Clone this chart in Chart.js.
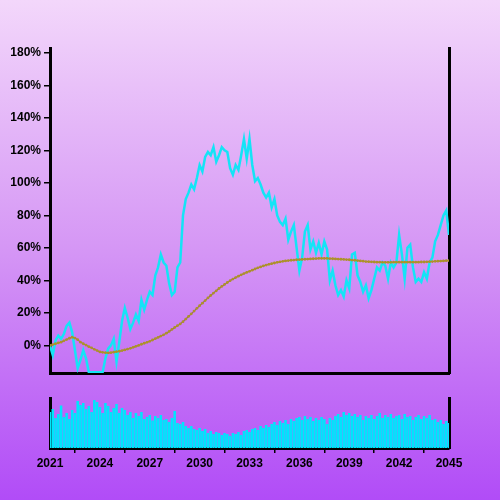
<!DOCTYPE html>
<html>
<head>
<meta charset="utf-8">
<script src="https://cdn.jsdelivr.net/npm/chart.js@4.4.0/dist/chart.umd.min.js"></script>
<style>
  html, body { margin: 0; padding: 0; width: 500px; height: 500px; overflow: hidden; }
  body { background: linear-gradient(to bottom, #f3d7fb 0%, #d596f5 50%, #b14cf7 100%); position: relative; }
  #mainChart { position: absolute; left: 0; top: 0; }
  #volChart { position: absolute; left: 0; top: 380px; }
</style>
</head>
<body>
<canvas id="mainChart" width="500" height="380"></canvas>
<canvas id="volChart" width="500" height="120"></canvas>
<script>
// Series, one value every two months from 2021 to 2045
const priceChange = [
  0.00, -0.06, 0.03, 0.06, 0.04, 0.07, 0.12, 0.14, 0.08, -0.03,
  -0.14, -0.09, -0.03, -0.08, -0.165, -0.165, -0.165, -0.165, -0.165, -0.165,
  -0.08, -0.02, 0.00, 0.04, -0.10, 0.02, 0.15, 0.23, 0.17, 0.10,
  0.14, 0.19, 0.15, 0.28, 0.22, 0.28, 0.33, 0.31, 0.43, 0.48,
  0.56, 0.51, 0.49, 0.38, 0.31, 0.33, 0.48, 0.51, 0.80, 0.90,
  0.94, 0.99, 0.96, 1.03, 1.11, 1.07, 1.16, 1.19, 1.17, 1.22,
  1.13, 1.17, 1.22, 1.20, 1.19, 1.09, 1.05, 1.11, 1.08, 1.17,
  1.27, 1.15, 1.27, 1.11, 1.01, 1.03, 0.99, 0.94, 0.91, 0.94,
  0.85, 0.90, 0.80, 0.76, 0.74, 0.78, 0.65, 0.70, 0.74, 0.60,
  0.46, 0.54, 0.70, 0.74, 0.59, 0.64, 0.57, 0.63, 0.56, 0.64,
  0.59, 0.40, 0.46, 0.37, 0.31, 0.34, 0.30, 0.40, 0.35, 0.56,
  0.57, 0.43, 0.39, 0.33, 0.37, 0.29, 0.34, 0.41, 0.48, 0.46,
  0.51, 0.49, 0.41, 0.51, 0.48, 0.51, 0.68, 0.56, 0.41, 0.60,
  0.62, 0.48, 0.39, 0.41, 0.39, 0.45, 0.41, 0.51, 0.54, 0.64,
  0.68, 0.74, 0.80, 0.83, 0.68
];

const smoothTrend = [
  0.000, 0.005, 0.010, 0.015, 0.020, 0.028, 0.036, 0.044, 0.050, 0.045,
  0.035, 0.020, 0.010, 0.002, -0.008, -0.015, -0.024, -0.032, -0.040, -0.043,
  -0.045, -0.046, -0.045, -0.042, -0.039, -0.036, -0.032, -0.028, -0.023, -0.018,
  -0.012, -0.006, 0.000, 0.007, 0.013, 0.019, 0.025, 0.033, 0.041, 0.049,
  0.057, 0.065, 0.075, 0.086, 0.098, 0.110, 0.121, 0.132, 0.146, 0.162,
  0.178, 0.194, 0.211, 0.228, 0.244, 0.260, 0.276, 0.292, 0.307, 0.322,
  0.336, 0.350, 0.363, 0.375, 0.387, 0.398, 0.408, 0.417, 0.426, 0.434,
  0.442, 0.449, 0.456, 0.463, 0.470, 0.477, 0.483, 0.489, 0.494, 0.499,
  0.503, 0.507, 0.511, 0.514, 0.517, 0.520, 0.522, 0.524, 0.525, 0.527,
  0.528, 0.529, 0.530, 0.531, 0.532, 0.533, 0.534, 0.535, 0.535, 0.535,
  0.535, 0.534, 0.533, 0.532, 0.531, 0.530, 0.529, 0.528, 0.527, 0.525,
  0.524, 0.522, 0.520, 0.518, 0.516, 0.515, 0.514, 0.513, 0.512, 0.512,
  0.511, 0.511, 0.511, 0.511, 0.512, 0.512, 0.512, 0.512, 0.512, 0.512,
  0.512, 0.512, 0.512, 0.512, 0.513, 0.513, 0.514, 0.515, 0.516, 0.517,
  0.518, 0.519, 0.520, 0.521, 0.522
];

const volume = [
  72, 78, 60, 68, 85, 62, 70, 58, 76, 70,
  94, 86, 90, 78, 84, 72, 96, 92, 82, 70,
  90, 84, 72, 80, 88, 70, 80, 76, 66, 72,
  60, 70, 64, 72, 58, 62, 66, 55, 64, 60,
  66, 56, 58, 52, 60, 74, 50, 48, 52, 44,
  40, 44, 38, 36, 40, 34, 38, 30, 34, 28,
  32, 30, 26, 30, 28, 24, 30, 28, 32, 26,
  34, 36, 32, 38, 40, 36, 44, 40, 46, 42,
  48, 52, 46, 54, 50, 56, 48, 58, 54, 60,
  62, 56, 64, 58, 62, 54, 60, 56, 62, 58,
  48, 60, 56, 64, 68, 62, 72, 66, 70, 64,
  68, 62, 66, 56, 64, 60, 66, 58, 64, 70,
  60, 66, 62, 68, 60, 64, 66, 58, 68, 62,
  64, 56, 62, 66, 58, 64, 60, 66, 56, 58,
  52, 56, 48, 54, 50
];

// y tick values shown on the main axis
const yTicks = [0, 0.2, 0.4, 0.6, 0.8, 1.0, 1.2, 1.4, 1.6, 1.8];

// x positions in years
const dates = priceChange.map((_, i) => 2021 + i / 6);

const tickFont = { family: "'Liberation Sans', Arial, sans-serif", size: 12, weight: "bold" };

// Main line chart
new Chart(document.getElementById("mainChart").getContext("2d"), {
  type: "line",
  data: {
    datasets: [
      {
        label: "Trend",
        data: dates.map((x, i) => ({ x, y: smoothTrend[i] })),
        borderColor: "#9a6858",
        borderWidth: 1.2,
        pointRadius: 1.4,
        pointBackgroundColor: "#ad9426",
        pointBorderColor: "#ad9426",
        pointBorderWidth: 0,
        tension: 0,
      },
      {
        label: "Change",
        data: dates.map((x, i) => ({ x, y: priceChange[i] })),
        borderColor: "#14e4f6",
        borderWidth: 2.5,
        pointRadius: 0,
        tension: 0,
      },
    ],
  },
  options: {
    responsive: false,
    animation: false,
    layout: { padding: { top: 48, right: 51, bottom: 7, left: 0 } },
    plugins: { legend: { display: false }, tooltip: { enabled: false } },
    scales: {
      x: {
        type: "linear",
        min: 2021,
        max: 2045,
        ticks: { display: false },
        grid: { display: false },
        border: { display: true, color: "#000", width: 3 },
        afterFit: (scale) => { scale.height = 0; },
      },
      y: {
        min: -0.17,
        max: 1.83,
        ticks: {
          padding: 3,
          color: "#000",
          font: tickFont,
          callback: (v) => Math.round(v * 100) + "%",
        },
        afterBuildTicks: (scale) => {
          scale.ticks = yTicks.map((v) => ({ value: v }));
        },
        grid: { drawOnChartArea: false, tickLength: 6, color: "#000", lineWidth: 1.5 },
        border: { display: true, color: "#000", width: 3 },
        afterFit: (scale) => {
          scale.width = 50;
          scale.paddingTop = 0;
          scale.paddingBottom = 0;
        },
      },
      yRight: {
        position: "right",
        min: -0.17,
        max: 1.83,
        ticks: { display: false },
        grid: { display: false },
        border: { display: true, color: "#000", width: 3 },
        afterFit: (scale) => { scale.width = 0; },
      },
    },
  },
});

// Volume bars
new Chart(document.getElementById("volChart").getContext("2d"), {
  type: "bar",
  data: {
    datasets: [
      {
        label: "Volume",
        data: dates.map((x, i) => ({ x, y: volume[i] })),
        backgroundColor: "#00e5fc",
        borderWidth: 0,
        barPercentage: 1,
        categoryPercentage: 0.92,
      },
    ],
  },
  options: {
    responsive: false,
    animation: false,
    layout: { padding: { top: 18, right: 51, bottom: 0, left: 0 } },
    plugins: { legend: { display: false }, tooltip: { enabled: false } },
    scales: {
      x: {
        type: "linear",
        min: 2021,
        max: 2045,
        offset: false,
        ticks: {
          stepSize: 3,
          padding: 3,
          color: "#000",
          font: tickFont,
          maxRotation: 0,
          callback: (v) => String(v),
        },
        grid: { drawOnChartArea: false, tickLength: 5, color: "#000", lineWidth: 1.5 },
        border: { display: true, color: "#000", width: 3 },
        afterFit: (scale) => { scale.height = 52; },
      },
      y: {
        min: 0,
        max: 100,
        ticks: { display: false },
        grid: { display: false },
        border: { display: true, color: "#000", width: 3 },
        afterFit: (scale) => { scale.width = 50; },
      },
      yRight: {
        position: "right",
        min: 0,
        max: 100,
        ticks: { display: false },
        grid: { display: false },
        border: { display: true, color: "#000", width: 3 },
        afterFit: (scale) => { scale.width = 0; },
      },
    },
  },
});
</script>
</body>
</html>
